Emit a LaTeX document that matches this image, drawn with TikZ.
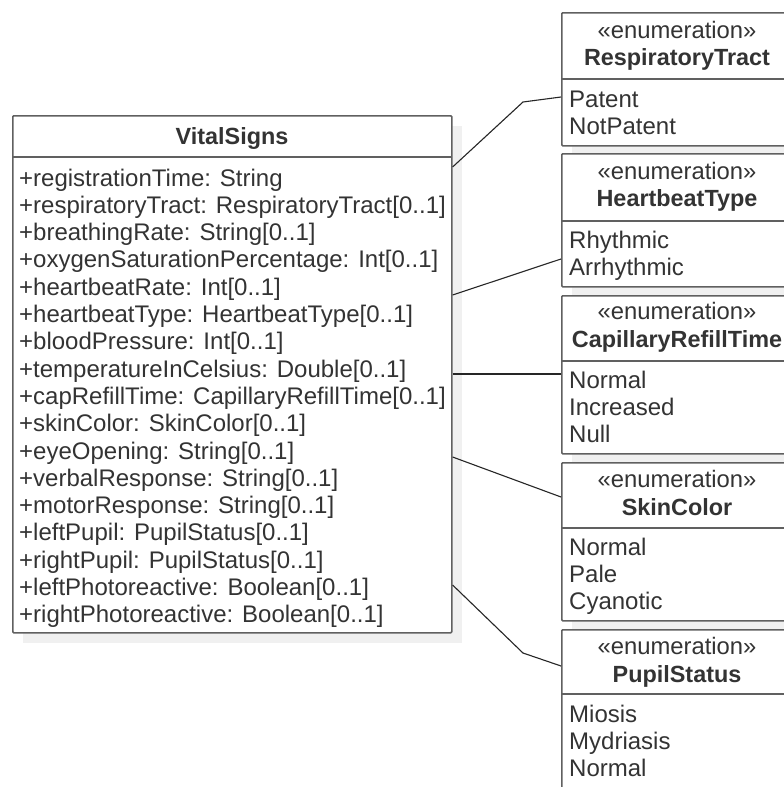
\documentclass[tikz,border=0pt]{standalone}
\usepackage{fontspec}
\setmainfont{Liberation Sans}
\usetikzlibrary{calc}
\definecolor{bord}{HTML}{606060}
\definecolor{txt}{HTML}{333333}
\definecolor{shad}{HTML}{F0F0F0}
\begin{document}
\begin{tikzpicture}[x=1pt,y=-1pt,
  box/.style={draw=bord,line width=1.6pt,fill=white,rounded corners=1pt,inner sep=0pt,anchor=north west},
  divider/.style={draw=bord,line width=1.6pt},
  attr/.style={anchor=base west,inner sep=0pt,text=txt,font=\fontsize{24}{27}\selectfont},
  title/.style={anchor=base,inner sep=0pt,text=txt,font=\fontsize{23.4}{27}\selectfont\bfseries},
  stereo/.style={anchor=base,inner sep=0pt,text=txt,font=\fontsize{23.8}{27}\selectfont},
  conn/.style={draw=black!85,line width=1.1pt}]
\useasboundingbox (0,0) rectangle (784,787);
\clip (0,0) rectangle (784,787);
\fill[white] (0,0) rectangle (784,787);

% ---- VitalSigns class ----
\fill[shad] (23,126) rectangle (462,643);
\node[box, minimum width=439pt, minimum height=517pt] (vital) at (12,115) {};
\draw[divider] (12,157) -- (451,157);
\node[title] (vtitle) at (232,144) {VitalSigns};
\foreach \t [count=\i] in {
  {+registrationTime: String},
  {+respiratoryTract: RespiratoryTract[0..1]},
  {+breathingRate: String[0..1]},
  {+oxygenSaturationPercentage: Int[0..1]},
  {+heartbeatRate: Int[0..1]},
  {+heartbeatType: HeartbeatType[0..1]},
  {+bloodPressure: Int[0..1]},
  {+temperatureInCelsius: Double[0..1]},
  {+capRefillTime: CapillaryRefillTime[0..1]},
  {+skinColor: SkinColor[0..1]},
  {+eyeOpening: String[0..1]},
  {+verbalResponse: String[0..1]},
  {+motorResponse: String[0..1]},
  {+leftPupil: PupilStatus[0..1]},
  {+rightPupil: PupilStatus[0..1]},
  {+leftPhotoreactive: Boolean[0..1]},
  {+rightPhotoreactive: Boolean[0..1]}}
  \node[attr] (a\i) at (19,{186+(\i-1)*27.3}) {\t};

% ---- RespiratoryTract ----
\fill[shad] (572,23) rectangle (804,156);
\node[box, minimum width=232pt, minimum height=133pt] (rt) at (561,12) {};
\draw[divider] (561,79) -- (793,79);
\node[stereo] (rts) at (677,38) {«enumeration»};
\node[title] (rtt) at (677,65) {RespiratoryTract};
\node[attr] (rt1) at (569,107) {Patent};
\node[attr] (rt2) at (569,134) {NotPatent};

% ---- HeartbeatType ----
\fill[shad] (572,164) rectangle (804,297);
\node[box, minimum width=232pt, minimum height=133pt] (hb) at (561,153) {};
\draw[divider] (561,221) -- (793,221);
\node[stereo] (hbs) at (677,179) {«enumeration»};
\node[title] (hbt) at (677,206) {HeartbeatType};
\node[attr] (hb1) at (569,248) {Rhythmic};
\node[attr] (hb2) at (569,275) {Arrhythmic};

% ---- CapillaryRefillTime ----
\fill[shad] (572,306) rectangle (804,464);
\node[box, minimum width=232pt, minimum height=158pt] (crt) at (561,295) {};
\draw[divider] (561,361) -- (793,361);
\node[stereo] (crts) at (677,319) {«enumeration»};
\node[title] (crtt) at (677,347) {CapillaryRefillTime};
\node[attr] (crt1) at (569,388) {Normal};
\node[attr] (crt2) at (569,415) {Increased};
\node[attr] (crt3) at (569,442) {Null};

% ---- SkinColor ----
\fill[shad] (572,473) rectangle (804,631);
\node[box, minimum width=232pt, minimum height=158pt] (sc) at (561,462) {};
\draw[divider] (561,528) -- (793,528);
\node[stereo] (scs) at (677,487) {«enumeration»};
\node[title] (sct) at (677,515) {SkinColor};
\node[attr] (sc1) at (569,555) {Normal};
\node[attr] (sc2) at (569,582) {Pale};
\node[attr] (sc3) at (569,609) {Cyanotic};

% ---- PupilStatus ----
\node[box, minimum width=232pt, minimum height=175pt] (ps) at (561,629) {};
\draw[divider] (561,694) -- (793,694);
\node[stereo] (pss) at (677,654) {«enumeration»};
\node[title] (pst) at (677,682) {PupilStatus};
\node[attr] (ps1) at (569,722) {Miosis};
\node[attr] (ps2) at (569,749) {Mydriasis};
\node[attr] (ps3) at (569,776) {Normal};

% ---- connectors ----
\coordinate (b1) at (523,102);
\coordinate (b5) at (523,653);
\draw[conn] ($(vital.north east)+(0,52)$) -- (b1) -- ($(rt.north west)+(0,85)$);
\draw[conn] ($(vital.north east)+(0,180)$) -- ($(hb.north west)+(0,106)$);
\draw[conn] ($(vital.north east)+(0,259)$) -- ($(crt.north west)+(0,79)$);
\draw[conn] ($(vital.north east)+(0,342)$) -- ($(sc.north west)+(0,35)$);
\draw[conn] ($(vital.north east)+(0,470)$) -- (b5) -- ($(ps.north west)+(0,37)$);
\end{tikzpicture}
\end{document}
